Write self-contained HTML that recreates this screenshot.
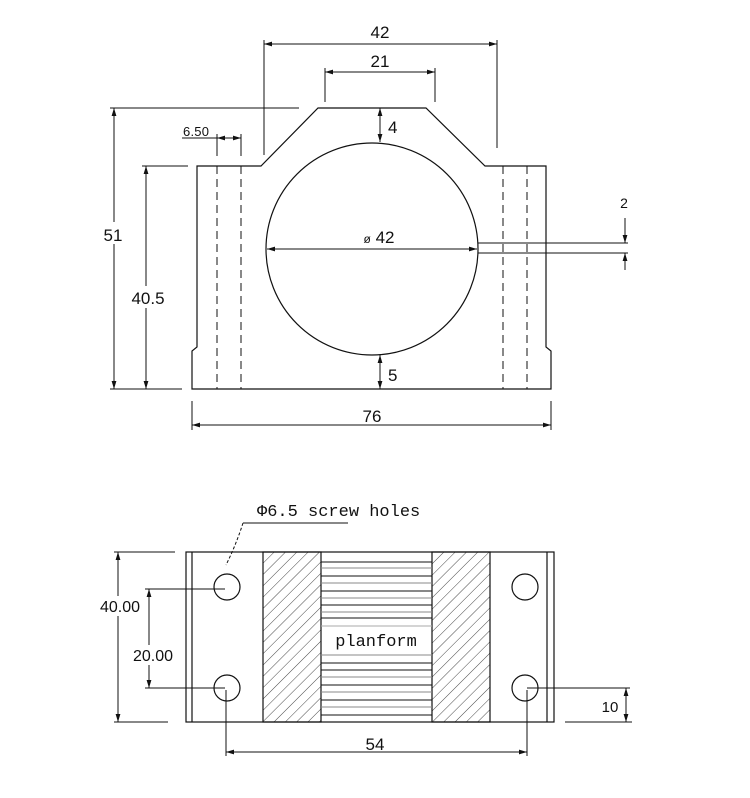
<!DOCTYPE html>
<html><head><meta charset="utf-8"><style>
html,body{margin:0;padding:0;background:#fff;}
svg{display:block;}
text{font-family:"Liberation Sans",sans-serif;fill:#111;}
.s{font-family:"Liberation Mono","DejaVu Sans Mono",monospace;}
</style></head><body>
<svg width="750" height="798" viewBox="0 0 750 798" xmlns="http://www.w3.org/2000/svg">
<defs>
<marker id="a" viewBox="0 0 10 10" refX="10" refY="5" markerWidth="8" markerHeight="8" orient="auto-start-reverse" markerUnits="userSpaceOnUse"><path d="M0,2 L10,5 L0,8 z" fill="#111"/></marker>
<pattern id="h" width="8" height="8" patternUnits="userSpaceOnUse" patternTransform="rotate(45)"><line x1="0" y1="0" x2="0" y2="8" stroke="#333" stroke-width="0.9"/></pattern>
</defs>
<g stroke="#111" stroke-width="1.2" fill="none">
<path d="M192,389 L192,351 L197,347 L197,166 L261,166 L318,108 L426,108 L485,166 L546,166 L546,347 L551,351 L551,389 Z"/>
<circle cx="372" cy="249" r="106" fill="#fff"/>
<g stroke-dasharray="8,5" stroke-width="1">
<line x1="217" y1="166" x2="217" y2="389"/><line x1="241" y1="166" x2="241" y2="389"/>
<line x1="503" y1="166" x2="503" y2="389"/><line x1="527" y1="166" x2="527" y2="389"/>
</g>
<line x1="478" y1="243" x2="628" y2="243" stroke-width="1"/>
<line x1="478" y1="253" x2="628" y2="253" stroke-width="1"/>
<line x1="625" y1="218" x2="625" y2="243" stroke-width="1" marker-end="url(#a)"/>
<line x1="625" y1="270" x2="625" y2="253" stroke-width="1" marker-end="url(#a)"/>
<g stroke-width="1">
<line x1="264" y1="44" x2="497" y2="44" marker-start="url(#a)" marker-end="url(#a)"/>
<line x1="264" y1="40" x2="264" y2="155"/><line x1="497" y1="40" x2="497" y2="148"/>
<line x1="325" y1="72" x2="435" y2="72" marker-start="url(#a)" marker-end="url(#a)"/>
<line x1="325" y1="68" x2="325" y2="102"/><line x1="435" y1="68" x2="435" y2="102"/>
<line x1="267" y1="249" x2="477" y2="249" marker-start="url(#a)" marker-end="url(#a)"/>
<line x1="380" y1="108" x2="380" y2="142" marker-start="url(#a)" marker-end="url(#a)"/>
<line x1="380" y1="355" x2="380" y2="389" marker-start="url(#a)" marker-end="url(#a)"/>
<line x1="110" y1="108" x2="299" y2="108"/><line x1="110" y1="389" x2="182" y2="389"/>
<line x1="114" y1="108" x2="114" y2="389" marker-start="url(#a)" marker-end="url(#a)"/>
<line x1="142" y1="166" x2="188" y2="166"/>
<line x1="146" y1="166" x2="146" y2="389" marker-start="url(#a)" marker-end="url(#a)"/>
<line x1="182" y1="138" x2="241" y2="138"/>
<line x1="217" y1="134" x2="217" y2="156"/><line x1="241" y1="134" x2="241" y2="156"/>
<line x1="217" y1="138" x2="229" y2="138" marker-start="url(#a)"/>
<line x1="229" y1="138" x2="241" y2="138" marker-end="url(#a)"/>
<line x1="192" y1="401" x2="192" y2="430"/><line x1="551" y1="401" x2="551" y2="430"/>
<line x1="192" y1="425" x2="551" y2="425" marker-start="url(#a)" marker-end="url(#a)"/>
</g>
<rect x="186" y="552" width="368" height="170"/>
<line x1="192" y1="552" x2="192" y2="722"/><line x1="547" y1="552" x2="547" y2="722"/>
<rect x="263" y="552" width="58" height="170" fill="url(#h)"/>
<rect x="432" y="552" width="58" height="170" fill="url(#h)"/>
<g stroke-width="1">
<line x1="321" y1="562" x2="432" y2="562"/><line x1="321" y1="568" x2="432" y2="568" stroke="#888"/>
<line x1="321" y1="576" x2="432" y2="576"/><line x1="321" y1="583" x2="432" y2="583" stroke="#888"/>
<line x1="321" y1="591" x2="432" y2="591"/><line x1="321" y1="598" x2="432" y2="598" stroke="#888"/>
<line x1="321" y1="605" x2="432" y2="605"/><line x1="321" y1="612" x2="432" y2="612" stroke="#888"/>
<line x1="321" y1="618" x2="432" y2="618"/><line x1="321" y1="626" x2="432" y2="626" stroke="#aaa"/>
<line x1="321" y1="655" x2="432" y2="655" stroke="#888"/><line x1="321" y1="663" x2="432" y2="663"/>
<line x1="321" y1="670" x2="432" y2="670"/><line x1="321" y1="677" x2="432" y2="677" stroke="#888"/>
<line x1="321" y1="685" x2="432" y2="685"/><line x1="321" y1="692" x2="432" y2="692" stroke="#888"/>
<line x1="321" y1="700" x2="432" y2="700"/><line x1="321" y1="707" x2="432" y2="707" stroke="#888"/>
<line x1="321" y1="715" x2="432" y2="715"/>
</g>
<circle cx="227" cy="587" r="13"/><circle cx="227" cy="688" r="13"/>
<circle cx="525" cy="587" r="13"/><circle cx="525" cy="688" r="13"/>
<g stroke-width="1">
<line x1="114" y1="552" x2="175" y2="552"/><line x1="114" y1="722" x2="168" y2="722"/>
<line x1="118" y1="552" x2="118" y2="722" marker-start="url(#a)" marker-end="url(#a)"/>
<line x1="145" y1="589" x2="225" y2="589"/><line x1="145" y1="688" x2="225" y2="688"/>
<line x1="149" y1="589" x2="149" y2="688" marker-start="url(#a)" marker-end="url(#a)"/>
<line x1="527" y1="688" x2="630" y2="688"/><line x1="565" y1="722" x2="632" y2="722"/>
<line x1="626" y1="688" x2="626" y2="722" marker-start="url(#a)" marker-end="url(#a)"/>
<line x1="226" y1="690" x2="226" y2="756"/><line x1="527" y1="690" x2="527" y2="756"/>
<line x1="226" y1="752" x2="527" y2="752" marker-start="url(#a)" marker-end="url(#a)"/>
<line x1="243" y1="523" x2="348" y2="523"/>
<path d="M243,523 Q236,545 226,565" stroke-dasharray="3,2"/>
</g>
</g>
<g fill="#fff">
<rect x="102" y="222" width="24" height="22"/>
<rect x="130" y="286" width="36" height="22"/>
<rect x="99" y="596" width="42" height="20"/>
<rect x="132" y="645" width="42" height="20"/>
<rect x="330" y="628" width="92" height="24"/>
</g>
<g font-size="17" text-anchor="middle">
<text x="380" y="38">42</text>
<text x="380" y="67">21</text>
<text x="388" y="133" text-anchor="start">4</text>
<text x="388" y="381" text-anchor="start">5</text>
<text x="379" y="243"><tspan font-size="12">ø</tspan> 42</text>
<text x="624" y="208" font-size="14">2</text>
<text x="113" y="241">51</text>
<text x="148" y="304">40.5</text>
<text x="196" y="136" font-size="13" textLength="26">6.50</text>
<text x="372" y="422">76</text>
<text x="120" y="612" font-size="16">40.00</text>
<text x="153" y="661" font-size="16">20.00</text>
<text x="610" y="712" font-size="15">10</text>
<text x="375" y="750">54</text>
</g>
<text class="s" x="257" y="516" font-size="17">Φ6.5 screw holes</text>
<text class="s" x="376" y="646" font-size="17" text-anchor="middle">planform</text>
</svg>
</body></html>
